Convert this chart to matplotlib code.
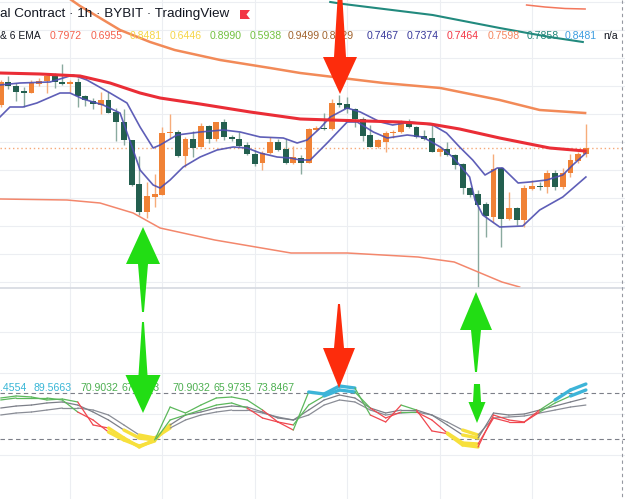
import matplotlib
matplotlib.use("Agg")
import matplotlib.pyplot as plt
import numpy as np
from matplotlib.patches import Polygon
from matplotlib.collections import LineCollection

# ---------------- data ----------------
# candles (1h), index 0..76
opens  = [0.789,0.812,0.808,0.803,0.801,0.810,0.813,0.818,0.812,0.810,0.812,0.798,0.793,0.789,0.794,0.782,0.772,0.754,0.710,0.682,
          0.697,0.699,0.761,0.762,0.738,0.755,0.747,0.768,0.755,0.772,0.757,0.755,0.749,0.740,0.731,0.741,0.752,0.745,0.731,0.736,
          0.731,0.764,0.766,0.765,0.791,0.790,0.785,0.775,0.759,0.747,0.752,0.761,0.762,0.772,0.767,0.758,0.756,0.742,0.745,0.739,
          0.730,0.706,0.700,0.690,0.677,0.726,0.675,0.686,0.674,0.705,0.708,0.707,0.721,0.707,0.721,0.733,0.740]
highs  = [0.814,0.818,0.811,0.807,0.814,0.816,0.819,0.821,0.830,0.814,0.816,0.799,0.796,0.802,0.802,0.786,0.785,0.754,0.738,0.712,
          0.720,0.767,0.780,0.764,0.757,0.763,0.771,0.769,0.772,0.775,0.759,0.762,0.752,0.744,0.743,0.757,0.755,0.755,0.748,0.739,
          0.766,0.768,0.781,0.795,0.799,0.797,0.786,0.777,0.769,0.755,0.763,0.764,0.774,0.775,0.768,0.764,0.771,0.747,0.752,0.740,
          0.731,0.707,0.704,0.692,0.740,0.727,0.702,0.687,0.709,0.714,0.712,0.724,0.724,0.726,0.740,0.742,0.770]
lows   = [0.787,0.805,0.793,0.787,0.801,0.808,0.801,0.806,0.809,0.802,0.787,0.788,0.785,0.780,0.781,0.753,0.749,0.708,0.679,0.676,
          0.687,0.699,0.756,0.737,0.727,0.737,0.747,0.751,0.753,0.754,0.753,0.747,0.739,0.728,0.724,0.740,0.743,0.730,0.730,0.720,
          0.731,0.763,0.764,0.764,0.787,0.781,0.767,0.753,0.747,0.746,0.742,0.756,0.761,0.766,0.756,0.754,0.742,0.738,0.738,0.725,
          0.700,0.697,0.606,0.657,0.672,0.647,0.674,0.669,0.667,0.704,0.704,0.701,0.704,0.705,0.717,0.731,0.737]
closes = [0.812,0.808,0.802,0.8015,0.811,0.813,0.818,0.812,0.810,0.812,0.798,0.794,0.790,0.794,0.781,0.772,0.754,0.709,0.682,0.698,
          0.700,0.761,0.762,0.738,0.755,0.746,0.768,0.755,0.772,0.757,0.755,0.748,0.740,0.730,0.741,0.752,0.744,0.731,0.737,0.731,
          0.765,0.766,0.765,0.791,0.789,0.785,0.775,0.758,0.747,0.754,0.761,0.762,0.772,0.767,0.757,0.755,0.742,0.745,0.739,0.729,
          0.706,0.699,0.689,0.678,0.725,0.675,0.686,0.674,0.706,0.708,0.707,0.721,0.707,0.721,0.734,0.740,0.746]
last_price = 0.746

# moving-average style lines: (candle index, price)
ema_red_x   = [-0.1, 5.1, 10.3, 14.2, 18.1, 20.7, 25.9, 32.4, 38.9, 42.8, 51.9, 55.8, 59.6, 64.8, 71.3, 75.9]
ema_red_y   = [0.821,0.820,0.818,0.811,0.801,0.796,0.790,0.782,0.775,0.774,0.772,0.770,0.765,0.756,0.746,0.743]
band_up_x   = [7.7, 10.3, 12.9, 15.5, 19.4, 22.6, 28.5, 35.0, 38.9, 49.7, 57.1, 64.8, 70.0, 75.9]
band_up_y   = [0.902,0.888,0.876,0.864,0.852,0.844,0.834,0.826,0.821,0.811,0.806,0.794,0.784,0.781]
band_lo_x   = [-0.1, 8.6, 12.9, 17.2, 20.7, 27.8, 37.7, 45.0, 54.2, 58.9, 62.0, 65.1, 67.4]
band_lo_y   = [0.695,0.694,0.691,0.681,0.666,0.654,0.641,0.641,0.637,0.632,0.622,0.612,0.607]
teal_x      = [42.8, 44.5, 56.1, 64.8, 71.3, 75.6]
teal_y      = [0.892,0.890,0.879,0.866,0.857,0.852]
salmon_x    = [68.3, 70.7, 73.3, 75.9]
salmon_y    = [0.889,0.887,0.8855,0.885]
hi_ema_x    = [-0.1,2.5,6.4,9.4,11.2,14.2,16.4,18.1,19.8,20.7,22.9,25.9,28.9,31.1,33.7,36.7,38.5,39.8,41.5,42.8,45.0,46.7,
               49.3,50.9,53.2,56.1,57.9,59.6,61.3,62.9,64.5,65.2,67.2,68.7,70.9,73.0,74.3,76.0]
hi_ema_y    = [0.809,0.811,0.812,0.819,0.814,0.801,0.791,0.767,0.746,0.749,0.759,0.762,0.764,0.762,0.757,0.756,0.751,0.754,
               0.766,0.777,0.786,0.782,0.772,0.769,0.772,0.769,0.761,0.747,0.734,0.719,0.726,0.726,0.711,0.712,0.714,0.719,0.729,0.741]
lo_ema_x    = [-0.1,1.2,2.9,4.7,7.7,9.0,10.7,13.3,15.5,17.2,18.1,19.8,20.7,22.0,23.7,25.9,28.1,30.2,32.0,33.7,35.9,37.6,38.9,
               40.2,42.4,45.0,46.3,48.4,50.2,52.8,54.8,57.1,58.7,59.6,60.9,61.6,62.6,64.8,67.8,70.0,73.0,76.0]
lo_ema_y    = [0.777,0.787,0.787,0.791,0.801,0.801,0.795,0.789,0.781,0.744,0.724,0.709,0.706,0.714,0.727,0.737,0.744,0.747,
               0.746,0.741,0.737,0.736,0.734,0.734,0.751,0.772,0.772,0.762,0.756,0.759,0.757,0.747,0.737,0.729,0.717,0.694,
               0.679,0.667,0.668,0.684,0.697,0.717]

# oscillator pane (sampled every 2 candles)
osc_x  = list(range(0, 77, 2))
osc_fast = [73.5,76.1,74.8,70.9,72.2,68.3,38.3,34.3,21.3,9.6,18.7,61.7,53.9,64.3,73.5,74.8,70.9,57.8,42.2,31.7,
            81.3,78.7,89.1,86.5,51.3,42.2,64.3,57.8,30.5,27.0,12.2,9.6,51.3,44.8,42.2,57.8,70.9,83.9,91.7]
osc_mid  = [70.9,73.5,73.5,73.5,70.9,55.2,44.8,29.1,18.7,10.9,17.4,44.8,51.3,57.8,64.3,67.0,60.4,47.4,42.2,38.3,
            64.3,76.1,83.9,81.3,60.4,47.4,55.2,55.2,44.8,27.8,14.8,13.5,47.4,42.2,42.2,55.2,67.0,76.1,83.9]
osc_g1   = [60.4,63.0,64.3,67.0,68.3,64.3,55.2,44.8,31.7,21.3,18.7,38.3,51.3,55.2,60.4,63.0,61.7,55.2,47.4,44.8,
            57.8,70.9,77.4,73.5,60.4,53.9,57.8,57.8,51.3,38.3,25.2,21.3,53.9,51.3,52.6,57.8,63.0,68.3,73.5]
osc_g2   = [51.3,53.9,55.2,57.8,60.4,60.4,57.8,51.3,38.3,25.2,21.3,34.3,44.8,51.3,55.2,57.8,57.8,53.9,48.7,44.8,
            51.3,64.3,70.9,68.3,57.8,51.3,53.9,55.2,51.3,42.2,31.7,25.2,47.4,48.7,50.0,53.9,57.8,61.7,64.3]
osc_levels = [80, 20]

header_title = "al Contract \u00b7 1h \u00b7 BYBIT \u00b7 TradingView"
legend_vals = ["0.7972","0.6955","0.8481","0.6446","0.8990","0.5938","0.9499","0.8429",
               "0.7467","0.7374","0.7464","0.7598","0.7858","0.8481","n/a"]
legend_cols = ["#f4604c","#f4604c","#f5d547","#f5d547","#72c040","#72c040","#a0622d","#a0622d",
               "#36379a","#36379a","#f23645","#f5865f","#22877a","#3d9de0","#131722"]
legend_xpx  = [50,91,130,170,210,250,288,322,367,407,447,488,527,565,603]
osc_labels = [".4554","89.5663","70.9032","67.6763","70.9032","65.9735","73.8467"]
osc_label_cols = ["#38b6d6","#38b6d6","#4caf50","#4caf50","#4caf50","#4caf50","#4caf50"]
osc_label_xpx = [0,34,80,122,172,214,256]

# ---------------- figure ----------------
W, H = 625, 499
fig = plt.figure(figsize=(W/100, H/100), dpi=100)
fig.patch.set_facecolor("white")
XL = (-0.0909, 81.08)
ax = fig.add_axes([0, 1-288/H, 1, 288/H])
ax2 = fig.add_axes([0, 0, 1, 211/H])

grid_c = "#eceef2"
for a in (ax, ax2):
    a.set_xlim(*XL)
    for s in a.spines.values():
        s.set_visible(False)
    a.set_xticks(range(9, 80, 12))
    a.tick_params(length=0, labelbottom=False, labelleft=False)
    a.grid(True, color=grid_c, lw=0.8)
    a.set_axisbelow(True)

ax.set_ylim(0.606, 0.894)
ax.set_yticks(np.arange(0.612, 0.894, 0.028))
ax2.set_ylim(-58.26, 216.96)
ax2.set_yticks([-0.9, 52.6, 106.1, 159.6])

# candles
idx = np.arange(len(opens))
o = np.array(opens); c = np.array(closes); h = np.array(highs); l = np.array(lows)
up = c >= o
body_up, body_dn = "#f08236", "#235f4f"
wick_up, wick_dn = "#f6ac7a", "#8aaa9f"
ax.vlines(idx[up], l[up], h[up], color=wick_up, lw=1.0, zorder=2)
ax.vlines(idx[~up], l[~up], h[~up], color=wick_dn, lw=1.0, zorder=2)
hgt = np.maximum(np.abs(c - o), 0.0014)
bot = np.minimum(o, c)
ax.bar(idx[up], hgt[up], bottom=bot[up], width=0.76, color=body_up, zorder=3, lw=0)
ax.bar(idx[~up], hgt[~up], bottom=bot[~up], width=0.76, color=body_dn, zorder=3, lw=0)

ax.axhline(last_price, color="#f5a877", lw=1.0, ls=(0, (1, 2)), zorder=1)

ax.plot(band_up_x, band_up_y, color="#f28a58", lw=1.8, zorder=4)
ax.plot(band_lo_x, band_lo_y, color="#f3876c", lw=1.1, zorder=4)
ax.plot(teal_x, teal_y, color="#228a7e", lw=1.5, zorder=4)
ax.plot(salmon_x, salmon_y, color="#f3775c", lw=1.1, zorder=4)
ax.plot(hi_ema_x, hi_ema_y, color="#4d4db0", lw=1.2, alpha=0.9, zorder=4)
ax.plot(lo_ema_x, lo_ema_y, color="#4d4db0", lw=1.2, alpha=0.9, zorder=4)
ax.plot(ema_red_x, ema_red_y, color="#ea2d36", lw=2.2, zorder=5)

# oscillator
for lv in osc_levels:
    ax2.axhline(lv, color="#7c7f88", lw=0.8, ls=(0, (4, 3)), zorder=1)

HI, LO = 76, 28.5
def osc_draw(vals, ref, base):
    segs, cols, lws = [], [], []
    for k in range(len(vals) - 1):
        m = (vals[k] + vals[k+1]) / 2
        segs.append([(osc_x[k], vals[k]), (osc_x[k+1], vals[k+1])])
        if m >= HI:
            cols.append("#3db4d8"); lws.append(2.4)
        elif m <= LO:
            cols.append("#f7e03c"); lws.append(2.4)
        elif ref is None:
            cols.append(base); lws.append(0.9)
        else:
            cols.append("#5cb85c" if vals[k] + vals[k+1] >= ref[k] + ref[k+1] else "#f0474f")
            lws.append(0.9)
    ax2.add_collection(LineCollection(segs, colors=cols, linewidths=lws, zorder=3,
                                      capstyle="round", joinstyle="round"))

osc_draw(osc_g2, None, "#8a8d96")
osc_draw(osc_g1, None, "#7c7f88")
osc_draw(osc_mid, osc_g2, None)
osc_draw(osc_fast, osc_g1, None)

# ---------------- overlay in pixel space ----------------
ov = fig.add_axes([0, 0, 1, 1], facecolor="none")
ov.set_xlim(0, W); ov.set_ylim(H, 0); ov.axis("off")

ov.plot([0, W], [288, 288], color="#d6d9e0", lw=1.2)
ov.plot([622, 622], [0, H], color="#9598a1", lw=0.8, ls=(0, (3, 3)))

font = "Liberation Sans"
ov.text(0, 14, header_title, fontsize=9.7, color="#131722", va="center", ha="left", family=font)
ov.add_patch(Polygon([(240, 10), (250, 10), (246.5, 14.5), (250, 19), (240, 19)], closed=True,
                     color="#f23645", lw=0))
ov.text(0, 36, "& 6 EMA", fontsize=7.4, color="#131722", va="center", ha="left", family=font)
for t, col, xp in zip(legend_vals, legend_cols, legend_xpx):
    ov.text(xp, 36, t, fontsize=7.6, color=col, va="center", ha="left", family=font)
for t, col, xp in zip(osc_labels, osc_label_cols, osc_label_xpx):
    ov.text(xp, 388, t, fontsize=7.6, color=col, va="center", ha="left", family=font)

def arrow(xc, y_end, y_base, y_tip, w_end, w_shaft, w_head, color):
    pts = [(xc - w_end/2, y_end), (xc + w_end/2, y_end), (xc + w_shaft/2, y_base),
           (xc + w_head/2, y_base), (xc, y_tip), (xc - w_head/2, y_base), (xc - w_shaft/2, y_base)]
    ov.add_patch(Polygon(pts, closed=True, color=color, lw=0, zorder=10))

RED, GREEN = "#fd2c0c", "#22dd14"
arrow(340, 0, 57, 94, 5, 12, 34, RED)
arrow(339, 304, 348, 388, 2, 10, 32, RED)
arrow(143, 312, 264, 227, 2, 10, 34, GREEN)
arrow(143, 322, 375, 413, 2, 9, 35, GREEN)
arrow(476, 372, 330, 292, 2, 10, 32, GREEN)
arrow(477, 384, 402, 423, 6, 8, 17, GREEN)

fig.savefig("out.png", dpi=100)
